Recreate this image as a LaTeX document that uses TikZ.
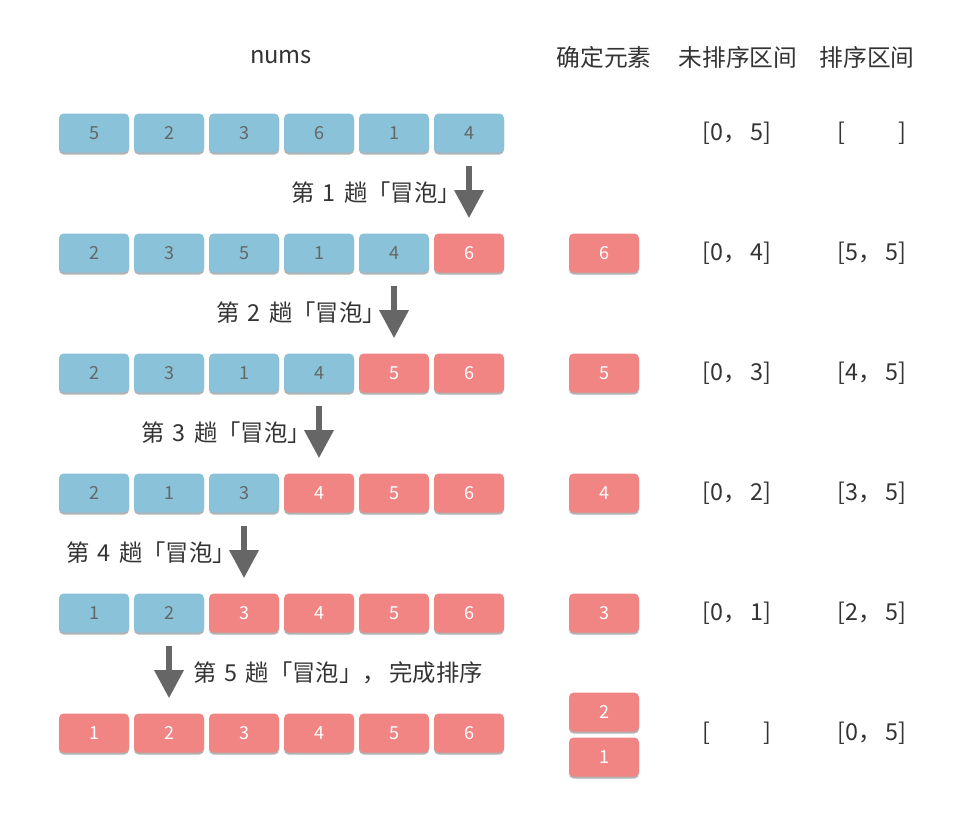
\documentclass[tikz,border=0pt]{standalone}
\usepackage{fontspec}
\setmainfont{Noto Sans CJK SC}
\usetikzlibrary{positioning,shadows,arrows.meta}
\definecolor{cellblue}{HTML}{8AC2D9}
\definecolor{cellred}{HTML}{F08583}
\definecolor{arrowgray}{HTML}{666666}
\definecolor{textgray}{HTML}{333333}

\begin{document}
\begin{tikzpicture}[x=0.75pt,y=-0.75pt,
    cell/.style={rounded corners=3.5pt,minimum width=52.5pt,minimum height=29.25pt,inner sep=0pt,
                 font=\fontsize{13.5}{14}\selectfont,
                 drop shadow={shadow xshift=0pt,shadow yshift=-1.5pt,opacity=.3,fill=black}},
    todo/.style={cell,fill=cellblue,text=arrowgray},
    done/.style={cell,fill=cellred,text=white},
    head/.style={font=\fontsize{17.8}{18}\selectfont,text=textgray},
    interval/.style={font=\fontsize{17.5}{18}\selectfont,text=textgray},
    pass/.style={font=\fontsize{17.5}{18}\selectfont,text=textgray,inner sep=0pt},
    bubble/.style={draw=arrowgray,line width=4.5pt,-{Triangle[length=21pt,width=21pt]},
                   shorten <=9.75pt,shorten >=11.25pt}]
  \useasboundingbox (0,0) rectangle (980,817);

  % headers
  \node[head] (nums)    at (281,57) {nums};
  \node[head] (fixHead) at (604,57) {确定元素};
  \node[head] (unHead)  at (738,57) {未排序区间};
  \node[head] (soHead)  at (867,57) {排序区间};

  % the array after every pass
  \foreach \vals [count=\row] in {{5/todo,2/todo,3/todo,6/todo,1/todo,4/todo},
                                  {2/todo,3/todo,5/todo,1/todo,4/todo,6/done},
                                  {2/todo,3/todo,1/todo,4/todo,5/done,6/done},
                                  {2/todo,1/todo,3/todo,4/done,5/done,6/done},
                                  {1/todo,2/todo,3/done,4/done,5/done,6/done},
                                  {1/done,2/done,3/done,4/done,5/done,6/done}}
    \foreach \v/\s [count=\col] in \vals
      \node[\s] (r\row c\col) at ({19+75*\col},{13+120*\row}) {\v};

  % fixed elements
  \node[done] (fix6) at (604,253) {6};
  \node[done] (fix5) at (604,373) {5};
  \node[done] (fix4) at (604,493) {4};
  \node[done] (fix3) at (604,613) {3};
  \node[done] (fix2) at (604,712) {2};
  \node[done] (fix1) at (604,757) {1};

  % intervals
  \node[interval] (un1) at (737,133) {[0，\,5]};
  \node[interval] (un2) at (737,253) {[0，\,4]};
  \node[interval] (un3) at (737,373) {[0，\,3]};
  \node[interval] (un4) at (737,493) {[0，\,2]};
  \node[interval] (un5) at (737,613) {[0，\,1]};
  \node[interval] (un6) at (737,733) {[\phantom{0，\,5}]};
  \node[interval] (so1) at (872,133) {[\phantom{0，\,5}]};
  \node[interval] (so2) at (872,253) {[5，\,5]};
  \node[interval] (so3) at (872,373) {[4，\,5]};
  \node[interval] (so4) at (872,493) {[3，\,5]};
  \node[interval] (so5) at (872,613) {[2，\,5]};
  \node[interval] (so6) at (872,733) {[0，\,5]};

  % passes
  \draw[bubble] (r1c6) -- node[pass,left=4pt]  (pass1) {第\hspace{.35em}1\hspace{.35em}趟「冒泡」} (r2c6);
  \draw[bubble] (r2c5) -- node[pass,left=4pt]  (pass2) {第\hspace{.35em}2\hspace{.35em}趟「冒泡」} (r3c5);
  \draw[bubble] (r3c4) -- node[pass,left=4pt]  (pass3) {第\hspace{.35em}3\hspace{.35em}趟「冒泡」} (r4c4);
  \draw[bubble] (r4c3) -- node[pass,left=4pt]  (pass4) {第\hspace{.35em}4\hspace{.35em}趟「冒泡」} (r5c3);
  \draw[bubble] (r5c2) -- node[pass,right=16pt] (pass5) {第\hspace{.35em}5\hspace{.35em}趟「冒泡」，\hspace{.15em}完成排序} (r6c2);
\end{tikzpicture}
\end{document}
